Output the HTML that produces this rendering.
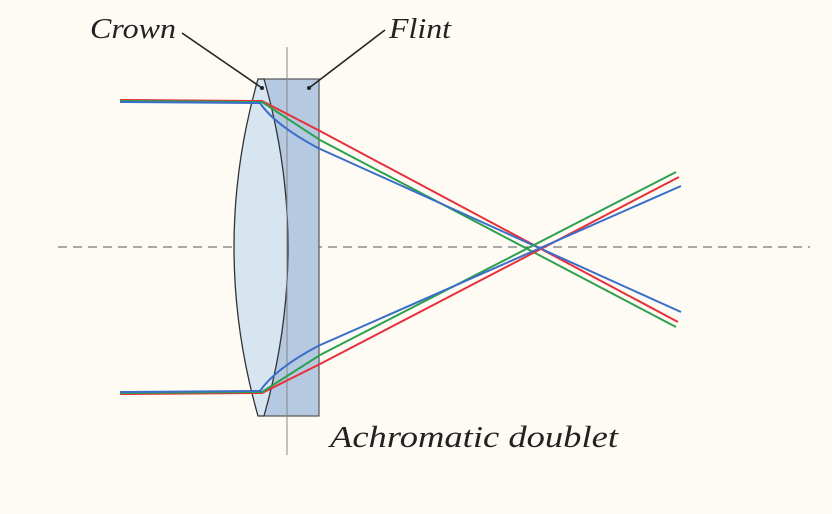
<!DOCTYPE html>
<html><head><style>html,body{margin:0;padding:0;background:#fdfbf4;}svg{display:block}</style></head>
<body>
<svg width="832" height="514" viewBox="0 0 832 514" xmlns="http://www.w3.org/2000/svg">
<rect width="832" height="514" fill="#fdfbf4"/>
<line x1="58" y1="247" x2="810" y2="247" stroke="#555" stroke-width="1" stroke-dasharray="9,6"/>
<!-- flint -->
<rect x="264" y="79" width="55" height="337" fill="#b5c9e1" stroke="#555" stroke-width="1.2"/>
<!-- crown -->
<path d="M258,79 L264,79 Q312,247 264,416 L258,416 Q210,247 258,79 Z" fill="#d7e5f1" stroke="#333" stroke-width="1.3"/>
<line x1="287" y1="47" x2="287" y2="455" stroke="#888" stroke-width="1"/>
<g fill="none" stroke-width="2">
<polyline points="120,100 262,101 320,131 678,322" stroke="#e8303a"/>
<polyline points="120,101 262,102 320,140 676,327" stroke="#2ea050"/>
<path d="M120,102 L260,103 Q275,125 318,148 L681,312" stroke="#3a6ec8"/>
<polyline points="120,394 262,393 320,364 679,177" stroke="#e8303a"/>
<polyline points="120,393 262,392 320,355 676,172" stroke="#2ea050"/>
<path d="M120,392 L260,391 Q275,369 318,346 L681,186" stroke="#3a6ec8"/>
</g>
<line x1="182" y1="33" x2="262" y2="88" stroke="#222" stroke-width="1.6"/>
<circle cx="262" cy="88" r="2" fill="#222"/>
<line x1="385" y1="30" x2="309" y2="88" stroke="#222" stroke-width="1.6"/>
<circle cx="309" cy="88" r="2" fill="#222"/>
<g font-family="'Liberation Serif', serif" font-style="italic" fill="#222">
<text x="90" y="38" font-size="29" textLength="86" lengthAdjust="spacingAndGlyphs">Crown</text>
<text x="389" y="38" font-size="29" textLength="62" lengthAdjust="spacingAndGlyphs">Flint</text>
<text x="330" y="447" font-size="31" textLength="288" lengthAdjust="spacingAndGlyphs">Achromatic doublet</text>
</g>
</svg>
</body></html>
